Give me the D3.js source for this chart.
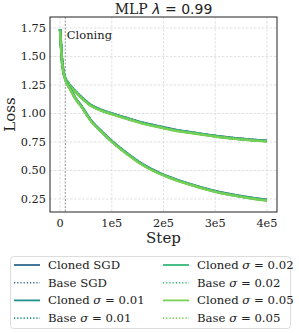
<!DOCTYPE html>
<html><head><meta charset="utf-8">
<script src="https://cdn.jsdelivr.net/npm/d3@7"></script>
<style>body{margin:0;background:#fff}svg{display:block}</style>
</head><body>
<script>
const steps = [0,2000,4000,6000,10000,15000,20000,30000,40000,60000,80000,100000,130000,160000,190000,220000,250000,280000,310000,340000,370000,400000];
const xTicks = [0,100000,200000,300000,400000];
const xTickLabels = ["0","1e5","2e5","3e5","4e5"];
const yTicks = [0.25,0.5,0.75,1.0,1.25,1.5,1.75];
const cloneStep = 10000;
const seriesNames = ["Cloned SGD","Base SGD","Cloned σ = 0.01","Base σ = 0.01","Cloned σ = 0.02","Base σ = 0.02","Cloned σ = 0.05","Base σ = 0.05"];
const seriesColors = ["#31688e","#31688e","#21918c","#21918c","#35b779","#35b779","#7ad151","#7ad151"];
const seriesDotted = [false,true,false,true,false,true,false,true];
const upper = [
 [1.73,1.59,1.45,1.38,1.31,1.27,1.245,1.195,1.15,1.075,1.033,1.002,0.96,0.92,0.89,0.86,0.838,0.818,0.80,0.784,0.772,0.762],
 [1.74,1.58,1.46,1.39,1.31,1.275,1.24,1.19,1.148,1.073,1.031,0.999,0.958,0.918,0.887,0.857,0.836,0.816,0.797,0.782,0.77,0.76],
 [1.74,1.57,1.45,1.38,1.305,1.268,1.238,1.188,1.143,1.068,1.025,0.995,0.953,0.913,0.883,0.853,0.833,0.813,0.793,0.778,0.766,0.756],
 [1.73,1.58,1.44,1.37,1.31,1.27,1.242,1.192,1.146,1.071,1.029,0.998,0.956,0.916,0.886,0.856,0.835,0.815,0.796,0.781,0.769,0.759],
 [1.74,1.58,1.45,1.38,1.31,1.27,1.24,1.19,1.145,1.07,1.028,0.997,0.955,0.915,0.885,0.855,0.834,0.814,0.795,0.78,0.767,0.757],
 [1.74,1.59,1.46,1.38,1.315,1.272,1.243,1.193,1.147,1.072,1.030,1.000,0.957,0.917,0.886,0.856,0.836,0.816,0.796,0.781,0.769,0.759],
 [1.72,1.57,1.44,1.37,1.30,1.265,1.235,1.185,1.14,1.065,1.023,0.992,0.95,0.91,0.88,0.85,0.83,0.81,0.79,0.776,0.764,0.754],
 [1.73,1.58,1.45,1.38,1.31,1.268,1.238,1.188,1.143,1.068,1.026,0.995,0.953,0.913,0.883,0.853,0.832,0.812,0.793,0.778,0.766,0.756]
];
const lower = [
 [1.73,1.59,1.45,1.38,1.30,1.25,1.215,1.135,1.075,0.94,0.845,0.76,0.65,0.555,0.485,0.43,0.384,0.344,0.31,0.284,0.262,0.244],
 [1.74,1.58,1.46,1.39,1.30,1.255,1.212,1.132,1.072,0.937,0.843,0.757,0.648,0.552,0.482,0.427,0.382,0.342,0.307,0.282,0.26,0.242],
 [1.74,1.57,1.45,1.38,1.30,1.248,1.208,1.128,1.068,0.933,0.838,0.753,0.643,0.548,0.478,0.423,0.378,0.338,0.303,0.278,0.256,0.238],
 [1.73,1.58,1.44,1.37,1.30,1.25,1.21,1.13,1.07,0.936,0.841,0.756,0.646,0.551,0.481,0.426,0.381,0.341,0.306,0.281,0.259,0.241],
 [1.74,1.58,1.45,1.38,1.30,1.25,1.21,1.13,1.07,0.935,0.84,0.755,0.645,0.55,0.48,0.425,0.379,0.339,0.305,0.279,0.257,0.239],
 [1.74,1.59,1.46,1.38,1.305,1.252,1.213,1.133,1.073,0.938,0.842,0.757,0.647,0.552,0.481,0.426,0.381,0.341,0.306,0.281,0.259,0.241],
 [1.72,1.57,1.44,1.37,1.295,1.245,1.205,1.125,1.065,0.93,0.835,0.75,0.64,0.545,0.475,0.42,0.376,0.336,0.302,0.276,0.254,0.236],
 [1.73,1.58,1.45,1.38,1.30,1.248,1.208,1.128,1.068,0.933,0.838,0.753,0.643,0.548,0.478,0.423,0.378,0.338,0.304,0.278,0.256,0.238]
];

const W = 299, H = 333;
const m = {l:50, t:17, r:277, b:212};
const serif = "'DejaVu Serif', serif";
const sans = "'DejaVu Sans', sans-serif";
const svg = d3.select("body").append("svg").attr("width",W).attr("height",H);
const x = d3.scaleLinear().domain([-19500, 419500]).range([m.l, m.r]);
const y = d3.scaleLinear().domain([0.136, 1.846]).range([m.b, m.t]);

// grid
const g = svg.append("g");
g.selectAll(".gx").data(xTicks).join("line")
  .attr("x1",d=>x(d)).attr("x2",d=>x(d)).attr("y1",m.t).attr("y2",m.b)
  .attr("stroke","#d9d9d9").attr("stroke-width",0.8).attr("stroke-dasharray","2.5,1.5");
g.selectAll(".gy").data(yTicks).join("line")
  .attr("x1",m.l).attr("x2",m.r).attr("y1",d=>y(d)).attr("y2",d=>y(d))
  .attr("stroke","#d9d9d9").attr("stroke-width",0.8).attr("stroke-dasharray","2.5,1.5");

// cloning line
svg.append("line").attr("x1",x(cloneStep)).attr("x2",x(cloneStep)).attr("y1",m.t).attr("y2",m.b)
  .attr("stroke","#888").attr("stroke-width",0.9).attr("stroke-dasharray","2,1.5");
svg.append("text").attr("x",x(cloneStep)+1.5).attr("y",38.5)
  .attr("font-family",serif).attr("font-size",11.5).attr("fill","#222").text("Cloning");

// curves
const line = d3.line().x((d,i)=>x(steps[i])).y(d=>y(d)).curve(d3.curveMonotoneX);
const plot = svg.append("g");
[upper, lower].forEach(group=>{
  group.forEach((vals,i)=>{
    plot.append("path").attr("d",line(vals)).attr("fill","none")
      .attr("stroke",seriesColors[i]).attr("stroke-width",seriesDotted[i]?2.6:2.2)
      .attr("stroke-opacity",0.9)
      .attr("stroke-dasharray",seriesDotted[i]?"1.3,1.6":null);
  });
});

// frame
svg.append("rect").attr("x",m.l).attr("y",m.t).attr("width",m.r-m.l).attr("height",m.b-m.t)
  .attr("fill","none").attr("stroke","#222").attr("stroke-width",1);

// ticks labels
svg.selectAll(".xt").data(xTicks).join("text")
  .attr("x",d=>x(d)).attr("y",m.b+15).attr("text-anchor","middle")
  .attr("font-family",serif).attr("font-size",11.3).attr("fill","#222")
  .text((d,i)=>xTickLabels[i]);
svg.selectAll(".yt").data(yTicks).join("text")
  .attr("x",m.l-4).attr("y",d=>y(d)+4).attr("text-anchor","end")
  .attr("font-family",serif).attr("font-size",11.3).attr("fill","#222")
  .text(d=>d.toFixed(2));

// axis labels
svg.append("text").attr("x",(m.l+m.r)/2).attr("y",243).attr("text-anchor","middle")
  .attr("font-family",serif).attr("font-size",15).attr("fill","#222").text("Step");
svg.append("text").attr("transform",`translate(15,${(m.t+m.b)/2}) rotate(-90)`).attr("text-anchor","middle")
  .attr("font-family",serif).attr("font-size",15).attr("fill","#222").text("Loss");

// title
const t = svg.append("text").attr("x",(m.l+m.r)/2).attr("y",13.5).attr("text-anchor","middle")
  .attr("font-size",14).attr("fill","#222");
t.append("tspan").attr("font-family",serif).text("MLP ");
t.append("tspan").attr("font-family",sans).attr("font-style","italic").text("λ");
t.append("tspan").attr("font-family",sans).text(" = 0.99");

// legend
const lg = svg.append("g");
lg.append("rect").attr("x",10.5).attr("y",256.5).attr("width",280).attr("height",72).attr("rx",3)
  .attr("fill","#fff").attr("stroke","#ddd").attr("stroke-width",1);
seriesNames.forEach((name,i)=>{
  const col = Math.floor(i/4), row = i%4;
  const lx = col===0?14:163, ty = 265 + row*17.7;
  lg.append("line").attr("x1",lx).attr("x2",lx+26).attr("y1",ty).attr("y2",ty)
    .attr("stroke",seriesColors[i]).attr("stroke-width",seriesDotted[i]?1.6:1.8)
    .attr("stroke-dasharray",seriesDotted[i]?"1.2,2":null);
  const tx = lg.append("text").attr("x",lx+34).attr("y",ty+4)
    .attr("font-family",serif).attr("font-size",11.7).attr("fill","#222");
  const parts = name.split("σ");
  tx.append("tspan").text(parts[0]);
  if(parts.length>1){
    tx.append("tspan").attr("font-style","italic").text("σ");
    tx.append("tspan").text(parts[1]);
  }
});
</script>
</body></html>
